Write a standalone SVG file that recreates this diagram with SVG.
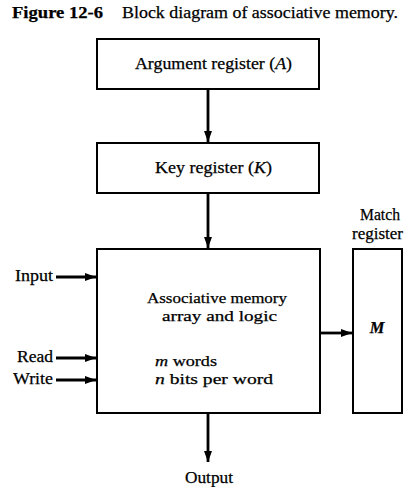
<svg xmlns="http://www.w3.org/2000/svg" width="409" height="487" viewBox="0 0 409 487">
<defs>
<style>
.box{fill:#fff;stroke:#000;stroke-width:2}
.con{stroke:#000;stroke-width:2.8;fill:none}
.t{font-family:"Liberation Serif","Times New Roman",serif;font-size:16.5px;fill:#000;stroke:#000;stroke-width:0.25}
.s{font-size:15px}
.i{font-style:italic}
</style>
<marker id="ah" markerUnits="userSpaceOnUse" markerWidth="12" markerHeight="10" refX="11" refY="4" orient="auto">
<path d="M0,0 L11,4 L0,8 Z" fill="#000"/>
</marker>
</defs>
<rect width="409" height="487" fill="#fff"/>
<text x="12" y="18" class="t" style="font-size:17px;font-weight:bold" textLength="91" lengthAdjust="spacingAndGlyphs">Figure 12-6</text>
<text x="122" y="18" class="t" style="font-size:17px" textLength="276" lengthAdjust="spacingAndGlyphs">Block diagram of associative memory.</text>

<g id="argument">
<rect class="box" x="97" y="39" width="222" height="50"/>
<text class="t" x="135" y="69" textLength="157" lengthAdjust="spacingAndGlyphs">Argument register (<tspan class="i">A</tspan>)</text>
</g>
<g id="key">
<rect class="box" x="97" y="143" width="222" height="50"/>
<text class="t" x="155" y="173" textLength="117" lengthAdjust="spacingAndGlyphs">Key register (<tspan class="i">K</tspan>)</text>
</g>
<g id="memory">
<rect class="box" x="97" y="249" width="223" height="164"/>
<text class="t s" x="147" y="303" textLength="140" lengthAdjust="spacingAndGlyphs">Associative memory</text>
<text class="t s" x="162" y="321" textLength="115" lengthAdjust="spacingAndGlyphs">array and logic</text>
<text class="t s" x="155" y="366" textLength="62" lengthAdjust="spacingAndGlyphs"><tspan class="i">m</tspan> words</text>
<text class="t s" x="155" y="384" textLength="118" lengthAdjust="spacingAndGlyphs"><tspan class="i">n</tspan> bits per word</text>
</g>
<g id="match">
<text class="t" x="360" y="220" textLength="40" lengthAdjust="spacingAndGlyphs">Match</text>
<text class="t" x="352" y="239" textLength="51" lengthAdjust="spacingAndGlyphs">register</text>
<rect class="box" x="353" y="249" width="49" height="164"/>
<text class="t" x="377" y="333" text-anchor="middle" style="font-style:italic;font-weight:bold">M</text>
</g>
<g id="labels">
<text class="t" x="15" y="281" textLength="38" lengthAdjust="spacingAndGlyphs">Input</text>
<text class="t" x="17" y="362" textLength="36" lengthAdjust="spacingAndGlyphs">Read</text>
<text class="t" x="13" y="384" textLength="40" lengthAdjust="spacingAndGlyphs">Write</text>
<text class="t" x="185" y="483" textLength="48" lengthAdjust="spacingAndGlyphs">Output</text>
</g>
<g id="connectors">
<line class="con" x1="208" y1="89" x2="208" y2="142" marker-end="url(#ah)"/>
<line class="con" x1="208" y1="193" x2="208" y2="248" marker-end="url(#ah)"/>
<line class="con" x1="320" y1="333" x2="352" y2="333" marker-end="url(#ah)"/>
<line class="con" x1="56" y1="277" x2="96" y2="277" marker-end="url(#ah)"/>
<line class="con" x1="56" y1="358" x2="96" y2="358" marker-end="url(#ah)"/>
<line class="con" x1="56" y1="380" x2="96" y2="380" marker-end="url(#ah)"/>
<line class="con" x1="208" y1="413" x2="208" y2="462" marker-end="url(#ah)"/>
</g>
</svg>
